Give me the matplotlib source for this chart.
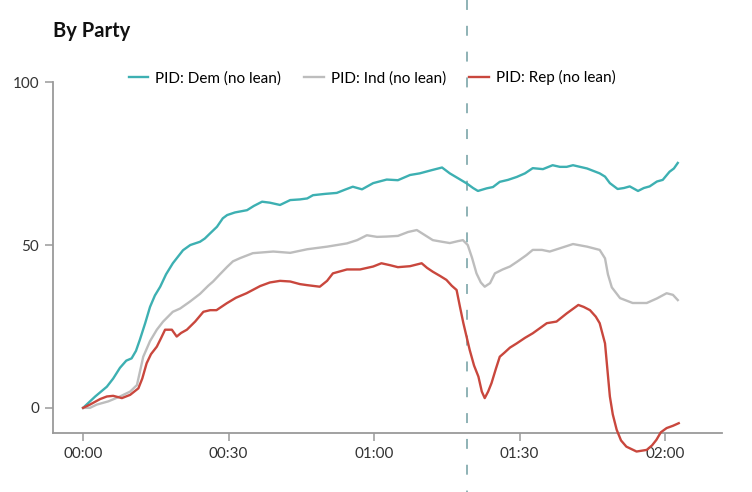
import matplotlib
matplotlib.use("Agg")
import matplotlib.pyplot as plt
import matplotlib.transforms as mtransforms

plt.rcParams['font.family'] = ['Lato', 'DejaVu Sans']

# minutes since start, share (%)
dem_t = [0.0, 2.5, 4.9, 6.2, 7.6, 8.9, 10.0, 10.9, 11.7, 12.8, 13.8, 14.8, 15.9, 17.1,
         18.5, 19.6, 20.6, 22.1, 24.1, 25.1, 26.2, 27.6, 28.8, 29.7, 31.3, 33.8, 35.2,
         36.9, 38.5, 40.6, 42.7, 44.7, 46.2, 47.4, 49.9, 52.3, 54.0, 55.6, 57.5, 59.8,
         62.6, 64.9, 67.4, 69.4, 71.9, 74.0, 75.6, 77.3, 79.1, 80.4, 81.4, 83.2, 84.5,
         85.9, 87.6, 89.4, 91.1, 92.7, 94.8, 96.8, 98.3, 99.7, 101.0, 103.9, 106.5,
         107.6, 108.6, 110.2, 111.5, 112.7, 114.4, 115.6, 116.8, 118.3, 119.5, 120.9,
         121.8, 122.6]
dem_v = [0, 3.5, 6.5, 9, 12.3, 14.5, 15.2, 17.5, 20.9, 26, 31, 34.5, 37.2, 41,
         44.4, 46.5, 48.4, 50, 51, 52, 53.6, 55.6, 58.2, 59.2, 60, 60.7, 62,
         63.3, 63, 62.3, 63.8, 64, 64.3, 65.3, 65.7, 66, 67, 67.9, 67.1, 69,
         70.1, 69.9, 71.5, 72, 73, 73.8, 72, 70.5, 68.9, 67.5, 66.6, 67.4, 67.8,
         69.4, 70, 70.9, 72, 73.6, 73.3, 74.5, 74, 74, 74.5, 73.5, 72,
         71, 69, 67.2, 67.5, 68, 66.6, 67.5, 68, 69.5, 70, 72.5,
         73.5, 75.2]

ind_t = [0.0, 1.4, 2.8, 5.2, 7.6, 9.7, 11.1, 11.7, 12.4, 13.8, 15.2, 16.5, 18.5, 20.0,
         22.0, 24.1, 25.8, 26.8, 28.2, 29.7, 30.9, 32.4, 35.0, 39.2, 42.7, 46.2, 50.3,
         54.4, 56.5, 58.5, 60.6, 62.6, 64.9, 67.0, 68.8, 70.5, 72.1, 74.0, 75.6, 77.3,
         78.3, 79.3, 80.2, 81.1, 82.0, 82.8, 83.9, 84.9, 86.5, 88.0, 89.6, 91.4, 92.7,
         94.6, 96.2, 98.3, 101.0, 103.9, 106.5, 107.6, 108.2, 109.0, 110.7, 113.3,
         116.2, 118.3, 120.3, 121.6, 122.6]
ind_v = [0, 0, 1, 2, 3.5, 5, 7, 11, 15.7, 20.5, 24, 26.5, 29.5, 30.5,
         32.6, 35, 37.5, 38.8, 41, 43.3, 45, 46, 47.5, 48, 47.6, 48.7, 49.5,
         50.5, 51.5, 53, 52.5, 52.6, 52.8, 54, 54.6, 53, 51.5, 51, 50.6, 51.2,
         51.5, 50, 46, 41.3, 38.5, 37.2, 38.3, 41.3, 42.5, 43.4, 45, 46.9, 48.5,
         48.5, 48, 49, 50.3, 49.5, 48.5, 45.9, 41, 37, 33.7, 32.2,
         32.2, 33.6, 35.2, 34.7, 33.1]

rep_t = [0.0, 1.4, 3.5, 4.9, 6.2, 8.0, 9.7, 11.4, 12.2, 13.1, 14.0, 15.2, 16.1, 16.9,
         18.3, 19.3, 20.2, 21.4, 23.1, 24.8, 26.2, 27.5, 29.6, 31.5, 33.7, 36.5, 38.5,
         40.6, 42.7, 44.7, 46.1, 48.8, 50.3, 51.5, 54.4, 57.1, 59.8, 61.5, 63.3, 64.9,
         67.4, 69.8, 70.9, 72.1, 73.6, 74.9, 76.0, 77.0, 77.7, 78.4, 79.7, 80.6, 81.5,
         82.2, 82.8, 83.5, 84.2, 85.1, 85.9, 86.9, 88.0, 89.4, 91.1, 92.7, 94.2, 95.6,
         97.6, 99.7, 102.1, 103.2, 104.5, 105.7, 106.5, 107.6, 108.2, 108.6, 109.2,
         110.0, 110.9, 112.0, 114.1, 116.2, 117.3, 118.2, 119.1, 120.3, 121.6, 122.8]
rep_v = [0, 1, 2.7, 3.5, 3.7, 3, 4, 6, 9, 13.7, 16.5, 18.8, 21.5, 24,
         24, 21.9, 23, 24, 26.5, 29.5, 30, 30, 32.1, 33.8, 35.2, 37.4, 38.5,
         39, 38.8, 38, 37.7, 37.2, 39, 41.3, 42.5, 42.5, 43.4, 44.4, 43.8, 43.2,
         43.5, 44.4, 43, 41.8, 40.5, 39.3, 37.5, 36.2, 31, 26, 17.8, 13, 9.6,
         5, 3, 5, 7.6, 12, 15.7, 17, 18.5, 19.8, 21.5, 22.9, 24.5, 26,
         26.5, 29, 31.6, 31, 30, 28, 26, 19.8, 10, 3.5, -2,
         -6.7, -10, -11.9, -13.4, -12.9, -11.5, -9.8, -7.5, -6.2, -5.5, -4.7]

series_labels = ["PID: Dem (no lean)", "PID: Ind (no lean)", "PID: Rep (no lean)"]
series_colors = ["#3db0b2", "#bdbdbd", "#c9473d"]

event_t = 79.2
x_ticks = [0, 30, 60, 90, 120]
x_tick_labels = ["00:00", "00:30", "01:00", "01:30", "02:00"]
y_ticks = [0, 50, 100]

fig = plt.figure(figsize=(7.52, 4.92), dpi=100)
ax = fig.add_axes([0.0705, 0.12, 0.8895, 0.713])

for t, v, lab, col in zip([dem_t, ind_t, rep_t], [dem_v, ind_v, rep_v],
                          series_labels, series_colors):
    ax.plot(t, v, color=col, lw=1.7, label=lab, clip_on=False, zorder=3)

# dashed marker spanning the full figure height
trans = mtransforms.blended_transform_factory(ax.transData, fig.transFigure)
ax.plot([event_t, event_t], [1, 0], transform=trans, color="#86adb0",
        lw=1.3, ls=(0, (5.5, 8.8)), clip_on=False, zorder=2)

ax.set_xlim(-6.2, 131.7)
ax.set_ylim(-7.7, 100)
ax.set_xticks(x_ticks)
ax.set_xticklabels(x_tick_labels)
ax.set_yticks(y_ticks)

for side in ["top", "right"]:
    ax.spines[side].set_visible(False)
for side in ["left", "bottom"]:
    ax.spines[side].set_color("#9a9a9a")
    ax.spines[side].set_linewidth(1.3)
ax.tick_params(colors="#9a9a9a", labelcolor="#333333", length=6, width=1.1,
               labelsize=11, pad=4)

ax.legend(loc="center", bbox_to_anchor=(0.477, 1.012), ncol=3, frameon=False,
          fontsize=11, handlelength=1.3, handletextpad=0.45, columnspacing=1.5)

fig.text(0.0705, 0.937, "By Party", fontsize=14.5, fontweight="bold", color="#111111",
         ha="left", va="center")

fig.savefig("out.png", dpi=100)
